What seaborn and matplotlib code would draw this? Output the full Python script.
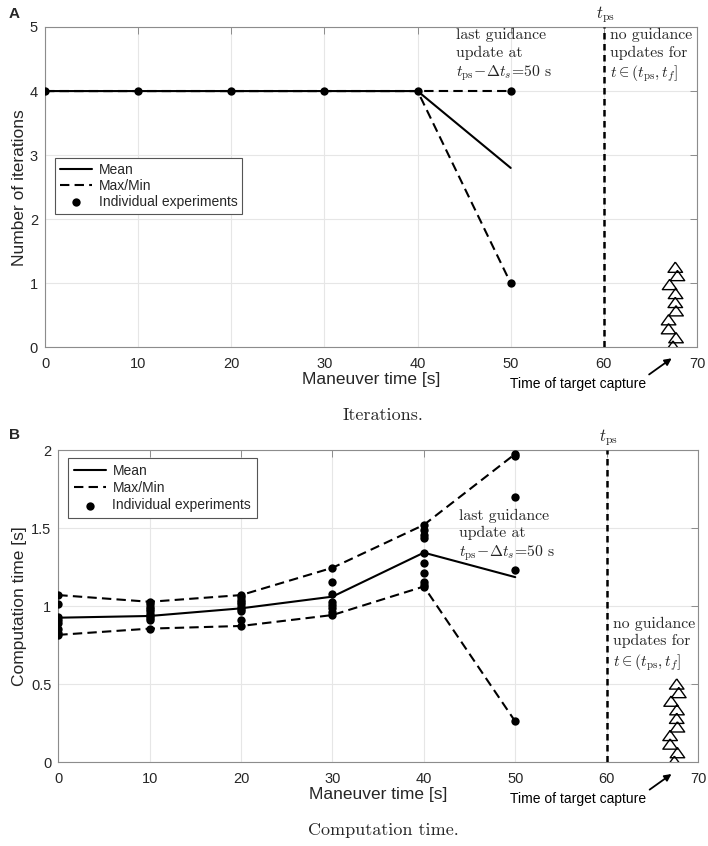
import matplotlib
matplotlib.use("Agg")
import matplotlib.pyplot as plt
import seaborn as sns
import numpy as np
import pandas as pd

# ---------------- data ----------------
maneuver_t = [0, 10, 20, 30, 40, 50]

iter_mean = [4, 4, 4, 4, 4, 2.8]
iter_max = [4, 4, 4, 4, 4, 4]
iter_min = [4, 4, 4, 4, 4, 1]
iter_pts_x = [0, 10, 20, 30, 40, 50, 50]
iter_pts_y = [4, 4, 4, 4, 4, 4, 1]

comp_mean = [0.925, 0.936, 0.985, 1.06, 1.342, 1.185]
comp_max = [1.07, 1.027, 1.07, 1.245, 1.52, 1.975]
comp_min = [0.815, 0.855, 0.872, 0.942, 1.125, 0.26]
comp_pts_x = ([0] * 8 + [10] * 10 + [20] * 10 + [30] * 8 + [40] * 10 + [50] * 5)
comp_pts_y = [1.07, 1.01, 0.93, 0.91, 0.89, 0.85, 0.83, 0.815,
              1.027, 1.01, 0.995, 0.98, 0.965, 0.95, 0.935, 0.92, 0.91, 0.855,
              1.07, 1.055, 1.04, 1.025, 1.01, 0.995, 0.98, 0.965, 0.91, 0.872,
              1.245, 1.156, 1.075, 1.028, 1.006, 0.985, 0.963, 0.942,
              1.52, 1.487, 1.455, 1.434, 1.342, 1.274, 1.214, 1.156, 1.135, 1.125,
              1.975, 1.96, 1.70, 1.23, 0.26]

capture_t = [67.67, 67.9, 67.06, 67.7, 67.67, 67.75, 66.95, 66.95, 67.75, 67.42]
capture_y_iter = [1.25, 1.12, 0.98, 0.84, 0.70, 0.57, 0.43, 0.29, 0.15, 0.02]
capture_y_comp = [0.50, 0.445, 0.39, 0.335, 0.28, 0.225, 0.17, 0.115, 0.06, 0.005]

t_ps = 60
xticks = [0, 10, 20, 30, 40, 50, 60, 70]
yticks_iter = [0, 1, 2, 3, 4, 5]
yticks_comp = [0, 0.5, 1, 1.5, 2]
ytick_labels_comp = ["0", "0.5", "1", "1.5", "2"]

# ---------------- style ----------------
sns.set_style("whitegrid")
plt.rcParams["font.family"] = ["Liberation Sans", "DejaVu Sans"]
plt.rcParams["mathtext.fontset"] = "cm"

W, H = 708, 846
fig = plt.figure(figsize=(W / 100, H / 100), dpi=100)

axA = fig.add_axes([45 / W, 1 - 347.3 / H, 652 / W, 320.3 / H])
axB = fig.add_axes([58.3 / W, 1 - 762 / H, 639.7 / W, 312 / H])

DASH = (0, (4.5, 2.5))
tri = [(0, 0.7), (-1, -0.7), (1, -0.7), (0, 0.7)]
serif = "cmr10"


def draw_panel(ax, mean, mx, mn, px, py, cy):
    sns.lineplot(x=maneuver_t, y=mean, color="k", lw=1.5, label="Mean", ax=ax)
    sns.lineplot(x=maneuver_t, y=mx, color="k", lw=1.5, linestyle=DASH,
                 label="Max/Min", ax=ax)
    sns.lineplot(x=maneuver_t, y=mn, color="k", lw=1.5, linestyle=DASH,
                 label="_nolegend_", ax=ax)
    sns.scatterplot(x=px, y=py, color="k", s=36, linewidth=0,
                    label="Individual experiments", ax=ax, zorder=5)
    sns.scatterplot(x=capture_t, y=cy, marker=tri, s=110, color="k",
                    linewidth=1.0, label="_nolegend_", ax=ax, zorder=5)
    coll = ax.collections[-1]
    coll.set_facecolor("none")
    coll.set_edgecolor("k")
    ax.axvline(t_ps, color="k", lw=1.8, linestyle=(0, (2.6, 1.8)), zorder=4)
    ax.set_xlim(0, 70)
    ax.set_xticks(xticks)
    ax.grid(True, color="#e6e6e6", lw=0.8)
    for s in ax.spines.values():
        s.set_visible(True)
        s.set_color("#8c8c8c")
        s.set_linewidth(0.8)
    ax.tick_params(direction="in", top=True, right=True, length=5, width=0.7,
                   color="#8c8c8c", labelcolor="#262626", labelsize=10.5)
    ax.tick_params(axis="x", pad=7)
    ax.tick_params(axis="y", pad=5)


# ---------- Panel A ----------
draw_panel(axA, iter_mean, iter_max, iter_min, iter_pts_x, iter_pts_y, capture_y_iter)
axA.set_ylim(0, 5)
axA.set_yticks(yticks_iter)
axA.set_xlabel("Maneuver time [s]", fontsize=12.5, color="#262626", labelpad=1)
axA.set_ylabel("Number of iterations", fontsize=12.5, color="#262626")
axA.yaxis.set_label_coords(-0.0276, 0.5)
legA = axA.legend(loc="upper left", bbox_to_anchor=(55 / W, 1 - 158 / H),
                  bbox_transform=fig.transFigure, borderaxespad=0, fontsize=10,
                  fancybox=False, framealpha=1, edgecolor="#555555",
                  handlelength=2.3, handletextpad=0.5, labelspacing=0.15,
                  borderpad=0.35)
legA.get_frame().set_linewidth(0.8)

axA.text(44.1, 4.98, "last guidance\nupdate at\n$t_{\\rm ps}\\!-\\!\\Delta t_s$=50 s",
         family=serif, fontsize=11.3, va="top", ha="left", linespacing=1.28)
axA.text(60.7, 4.98, "no guidance\nupdates for\n$t\\in(t_{\\rm ps},t_f]$",
         family=serif, fontsize=11.3, va="top", ha="left", linespacing=1.28)
axA.text(60.2, 5.19, "$t_{\\rm ps}$", fontsize=12, ha="center", va="center",
         clip_on=False)
axA.annotate("Time of target capture", xy=(67.28, -0.172), xytext=(57.2, -0.57),
             textcoords="data", xycoords="data", ha="center", va="center",
             fontsize=10, color="k", annotation_clip=False,
             arrowprops=dict(arrowstyle="-|>", color="k", lw=1.3,
                             shrinkA=0, shrinkB=0, mutation_scale=10,
                             relpos=(1.0, 1.0)))

# ---------- Panel B ----------
draw_panel(axB, comp_mean, comp_max, comp_min, comp_pts_x, comp_pts_y, capture_y_comp)
axB.set_ylim(0, 2)
axB.set_yticks(yticks_comp)
axB.set_yticklabels(ytick_labels_comp)
axB.set_xlabel("Maneuver time [s]", fontsize=12.5, color="#262626", labelpad=1)
axB.set_ylabel("Computation time [s]", fontsize=12.5, color="#262626")
axB.yaxis.set_label_coords(-0.049, 0.5)
legB = axB.legend(loc="upper left", bbox_to_anchor=(68 / W, 1 - 458 / H),
                  bbox_transform=fig.transFigure, borderaxespad=0, fontsize=10,
                  fancybox=False, framealpha=1, edgecolor="#555555",
                  handlelength=2.3, handletextpad=0.5, labelspacing=0.25,
                  borderpad=0.4)
legB.get_frame().set_linewidth(0.8)

axB.text(43.9, 1.625, "last guidance\nupdate at\n$t_{\\rm ps}\\!-\\!\\Delta t_s$=50 s",
         family=serif, fontsize=11.3, va="top", ha="left", linespacing=1.28)
axB.text(60.7, 0.93, "no guidance\nupdates for\n$t\\in(t_{\\rm ps},t_f]$",
         family=serif, fontsize=11.3, va="top", ha="left", linespacing=1.28)
axB.text(60.2, 2.077, "$t_{\\rm ps}$", fontsize=12, ha="center", va="center",
         clip_on=False)
axB.annotate("Time of target capture", xy=(67.1, -0.077), xytext=(56.9, -0.237),
             textcoords="data", xycoords="data", ha="center", va="center",
             fontsize=10, color="k", annotation_clip=False,
             arrowprops=dict(arrowstyle="-|>", color="k", lw=1.3,
                             shrinkA=0, shrinkB=0, mutation_scale=10,
                             relpos=(1.0, 1.0)))

# ---------- captions / panel letters ----------
fig.text(383 / W, 1 - 415 / H, "Iterations.", family=serif, fontsize=13,
         ha="center", va="center")
fig.text(383 / W, 1 - 830 / H, "Computation time.", family=serif, fontsize=13,
         ha="center", va="center")
fig.text(14 / W, 1 - 14 / H, "A", fontsize=11, fontweight="bold", ha="center",
         va="center")
fig.text(14 / W, 1 - 435 / H, "B", fontsize=11, fontweight="bold", ha="center",
         va="center")

fig.savefig("out.png", dpi=100)
